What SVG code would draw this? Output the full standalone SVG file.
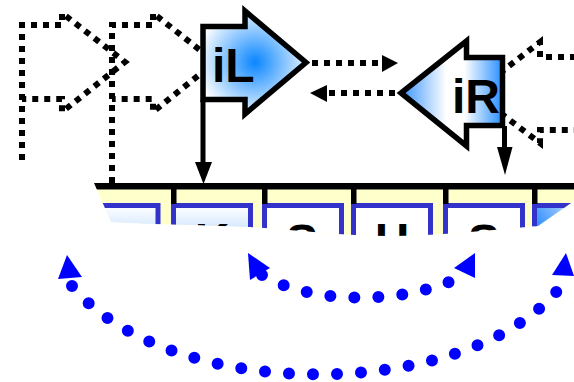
<svg xmlns="http://www.w3.org/2000/svg" width="574" height="382" viewBox="0 0 574 382">
<defs>
<radialGradient id="gL" gradientUnits="userSpaceOnUse" cx="255" cy="62" r="58"><stop offset="0" stop-color="#0a86ff"/><stop offset="1" stop-color="#ffffff"/></radialGradient>
<linearGradient id="gR" gradientUnits="userSpaceOnUse" x1="398" y1="0" x2="505" y2="0"><stop offset="0" stop-color="#2a8cff"/><stop offset="0.45" stop-color="#ffffff"/><stop offset="0.62" stop-color="#ffffff"/><stop offset="1" stop-color="#1a88ff"/></linearGradient>
<linearGradient id="gC1" gradientUnits="userSpaceOnUse" x1="0" y1="206" x2="0" y2="232"><stop offset="0" stop-color="#ffffff"/><stop offset="1" stop-color="#cde4ff"/></linearGradient>
<linearGradient id="gC6" gradientUnits="userSpaceOnUse" x1="540" y1="228" x2="572" y2="206"><stop offset="0" stop-color="#3390ff"/><stop offset="1" stop-color="#b8d8ff"/></linearGradient>
<clipPath id="tapeClip"><path d="M94,183 H574 V201 L538,226 C500,229 440,236 390,236 C340,236 300,230 250,227 C200,225 140,224 111,222 Z"/></clipPath>
<style>
.ghost{fill:none;stroke:#000;stroke-width:6;stroke-dasharray:6 6}
.head{stroke:#000;stroke-width:5.5;stroke-linejoin:miter}
.lbl{font-family:"Liberation Sans",Arial,sans-serif;font-weight:bold;font-size:48px;fill:#000}
.cell{stroke:#3333cc;stroke-width:5}
.tick{fill:#000}
.ptr{stroke:#000;stroke-width:5}
.dotk{fill:none;stroke:#000;stroke-width:6;stroke-dasharray:6 6}
.arc{fill:none;stroke:#0000ff;stroke-width:12;stroke-linecap:round;stroke-dasharray:0 24}
.ah{fill:#0000ff}
</style>
</defs>
<rect width="574" height="382" fill="#fff"/>
<g id="ghostL1"><path class="ghost" d="M22,160 V25 H62 V13 L125,62 L62,112 V99 H22"/></g>
<g id="ghostL2"><path class="ghost" d="M112,183 V25 H153 V13 L215,62 L153,112 V99 H112"/></g>
<g id="ghostR1"><path class="ghost" d="M576,57 H540 V42 L474,93 L540,143 V130 H576"/></g>
<g id="tape" clip-path="url(#tapeClip)">
<rect x="80" y="183" width="494" height="60" fill="#ffffcc"/>
<rect x="80" y="183" width="494" height="6.5" fill="#000"/>
<g id="cell1"><rect class="cell" x="81" y="205.5" width="77" height="60" fill="url(#gC1)"/></g>
<g id="cell2"><rect class="cell" x="173.5" y="205.5" width="77" height="60" fill="url(#gC1)"/><text class="lbl" x="212" y="256.5" text-anchor="middle">K</text></g>
<g id="cell3"><rect class="cell" x="264.5" y="205.5" width="77" height="60" fill="#fff"/><text class="lbl" x="302" y="257.5" text-anchor="middle">S</text></g>
<g id="cell4"><rect class="cell" x="353.5" y="205.5" width="77" height="60" fill="#fff"/><text class="lbl" x="392" y="256.5" text-anchor="middle">H</text></g>
<g id="cell5"><rect class="cell" x="445.5" y="205.5" width="77" height="60" fill="#fff"/><text class="lbl" x="484" y="257.5" text-anchor="middle">S</text></g>
<g id="cell6"><rect class="cell" x="534.5" y="205.5" width="77" height="60" fill="url(#gC6)"/></g>
<rect class="tick" x="171" y="189" width="5.5" height="15"/>
<rect class="tick" x="262" y="189" width="5.5" height="15"/>
<rect class="tick" x="351" y="189" width="5.5" height="15"/>
<rect class="tick" x="443" y="189" width="5.5" height="15"/>
<rect class="tick" x="532" y="189" width="5.5" height="15"/>
</g>
<g id="connectors">
<line class="ptr" x1="203" y1="100" x2="203" y2="164"/>
<polygon points="195,162 212,162 203.5,184" fill="#000"/>
<line class="ptr" x1="504.5" y1="126" x2="504.5" y2="150"/>
<polygon points="497,147 512.5,147 505,175" fill="#000"/>
<line class="dotk" x1="312" y1="63" x2="381" y2="63"/>
<polygon points="382,55 382,72 398,63" fill="#000"/>
<line class="dotk" x1="395" y1="93" x2="328" y2="93"/>
<polygon points="327,85 327,102 310,93" fill="#000"/>
<path class="arc" d="M72,286 C170,403 460,403 557,291"/>
<polygon class="ah" points="67,255 58,279 82,277"/>
<polygon class="ah" points="566,253 552,275 574,276"/>
<path class="arc" d="M262,275 C315,306 400,302 449,282"/>
<polygon class="ah" points="248,253 250,280 270,268"/>
<polygon class="ah" points="475,253 454,268 475,278"/>
</g>
<g id="iL"><path class="head" fill="url(#gL)" d="M203,26.5 H245 V11 L306,62.5 L245,114 V99.5 H203 Z"/><text class="lbl" x="212" y="82">iL</text></g>
<g id="iR"><path class="head" fill="url(#gR)" d="M502.5,57.5 H466.5 V41 L401,93 L466.5,146 V125.5 H502.5 Z"/><text class="lbl" x="452" y="113">iR</text></g>
</svg>
